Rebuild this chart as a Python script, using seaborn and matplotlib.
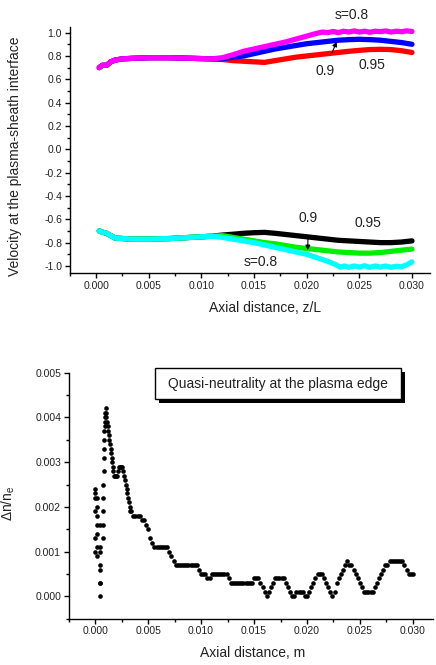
import matplotlib
matplotlib.use("Agg")
import matplotlib.pyplot as plt
from matplotlib.patches import Rectangle
from matplotlib.ticker import MultipleLocator, FormatStrFormatter
import numpy as np
import pandas as pd
import seaborn as sns

# ---- top panel: interface velocity, x in units of 1e-3 (z/L) ----
upper_common_x = [0.3, 0.6, 1.0, 1.4, 1.8, 2.5, 3.5, 5.0, 7.0, 9.0, 11.0]
upper_common_y = [0.70, 0.72, 0.72, 0.75, 0.765, 0.775, 0.78, 0.785, 0.785, 0.78, 0.775]
lower_common_x = [0.3, 0.6, 1.0, 1.4, 1.8, 2.5, 3.5, 5.0, 7.0, 9.0, 11.0]
lower_common_y = [-0.70, -0.71, -0.72, -0.74, -0.76, -0.765, -0.77, -0.77, -0.765, -0.755, -0.745]

red_x = [12, 13, 14, 15, 16, 17, 18, 19, 20, 21, 22, 23, 24, 25, 26, 27, 28, 29, 30]
red_y = [0.77, 0.76, 0.755, 0.75, 0.745, 0.76, 0.775, 0.79, 0.80, 0.81, 0.82, 0.83,
         0.84, 0.848, 0.855, 0.857, 0.855, 0.845, 0.83]
blue_x = [12, 13, 14, 15, 16, 17, 18, 19, 20, 21, 22, 23, 24, 25, 26, 27, 28, 29, 30]
blue_y = [0.775, 0.79, 0.80, 0.82, 0.84, 0.86, 0.875, 0.89, 0.905, 0.915, 0.925, 0.935,
          0.94, 0.943, 0.94, 0.935, 0.925, 0.915, 0.90]
magenta_x = [12, 13, 14, 15, 16, 17, 18, 19, 20, 21, 21.5, 22, 22.5, 23, 23.5, 24, 24.5,
             25, 25.5, 26, 26.5, 27, 27.5, 28, 28.5, 29, 29.5, 30]
magenta_y = [0.785, 0.81, 0.84, 0.86, 0.88, 0.90, 0.92, 0.945, 0.97, 0.995, 1.005, 1.0,
             1.01, 1.0, 1.012, 1.005, 1.015, 1.005, 1.012, 1.003, 1.012, 1.008, 1.015,
             1.005, 1.012, 1.008, 1.015, 1.01]
black_x = [12, 13, 14, 15, 16, 17, 18, 19, 20, 21, 22, 23, 24, 25, 26, 27, 28, 29, 30]
black_y = [-0.735, -0.728, -0.72, -0.715, -0.712, -0.72, -0.73, -0.74, -0.75, -0.76,
           -0.77, -0.78, -0.785, -0.79, -0.795, -0.80, -0.80, -0.795, -0.785]
green_x = [12, 13, 14, 15, 16, 17, 18, 19, 20, 21, 22, 23, 24, 25, 26, 27, 28, 29, 30]
green_y = [-0.74, -0.755, -0.77, -0.785, -0.80, -0.81, -0.825, -0.84, -0.85, -0.86,
           -0.87, -0.88, -0.885, -0.89, -0.89, -0.885, -0.875, -0.865, -0.855]
cyan_x = [12, 13, 14, 15, 16, 17, 18, 19, 20, 21, 22, 22.8, 23.2, 23.6, 24, 24.5, 25,
          25.5, 26, 26.5, 27, 27.5, 28, 28.5, 29, 29.5, 30]
cyan_y = [-0.755, -0.77, -0.785, -0.80, -0.82, -0.84, -0.86, -0.88, -0.90, -0.93, -0.96,
          -0.99, -1.01, -1.0, -1.012, -1.0, -1.01, -0.998, -1.012, -1.0, -1.01, -1.0,
          -1.012, -1.002, -1.008, -0.99, -0.965]

series_colors = {"0.95 up": "#ff0000", "0.9 up": "#0000ff", "0.8 up": "#ff00ff",
                 "0.95 down": "#000000", "0.9 down": "#00ee00", "0.8 down": "#00ffff"}

# ---- bottom panel: quasi-neutrality, x in 1e-3 m, y in 1e-4 ----
near_x = [0.0, 0.0, 0.0, 0.0, 0.0, 0.0,
          0.15, 0.15, 0.15, 0.15, 0.15, 0.15, 0.15,
          0.45, 0.45, 0.45, 0.45, 0.45, 0.45, 0.45, 0.45,
          0.72, 0.72, 0.72, 0.72, 0.72,
          0.80, 0.80, 0.80, 0.80, 0.80,
          0.95, 0.95, 0.95, 0.95,
          1.05, 1.05, 1.05,
          1.15, 1.20, 1.25, 1.30, 1.35, 1.40, 1.45, 1.50, 1.55, 1.60, 1.65, 1.70, 1.75,
          1.85, 1.95, 2.05, 2.15, 2.25, 2.35, 2.45, 2.55, 2.65,
          2.75, 2.82, 2.89, 2.96, 3.03, 3.10, 3.17, 3.24, 3.31, 3.40]
near_y = [24, 23, 22, 19, 13, 10,
          22, 20, 18, 16, 14, 11, 9,
          16, 11, 10, 7, 6, 3, 3, 0,
          25, 22, 19, 16, 13,
          28, 31, 33, 35, 37,
          38, 39, 40, 41,
          42, 41, 40,
          39, 38, 37, 36, 35, 34, 33, 32, 31, 30, 29, 28, 27,
          27, 27, 27, 28, 29, 29, 29, 29, 28,
          27, 26, 25, 24, 23, 22, 21, 20, 19, 19]
tail_start = 3.6
tail_step = 0.2
tail_y = [18, 18, 18, 18, 17, 17, 16, 15, 13, 12,
          11, 11, 11, 11, 11, 11, 11, 10, 9, 8,
          7, 7, 7, 7, 7, 7, 7, 7, 7, 7,
          7, 6, 5, 5, 5, 4, 4, 5, 5, 5,
          5, 5, 5, 5, 5, 4, 3, 3, 3, 3,
          3, 3, 3, 3, 3, 3, 3, 4, 4, 4,
          3, 2, 1, 0, 1, 2, 3, 4, 4, 4,
          4, 4, 3, 2, 1, 0, 0, 1, 1, 1,
          1, 0, 0, 1, 2, 3, 4, 5, 5, 5,
          4, 3, 2, 1, 0, 1, 3, 4, 5, 6,
          7, 8, 7, 7, 6, 5, 4, 3, 2, 1,
          1, 1, 1, 1, 2, 3, 4, 5, 6, 7,
          7, 8, 8, 8, 8, 8, 8, 8, 7, 6,
          5, 5, 5]

sns.set_theme(style="ticks")
plt.rcParams["font.family"] = ["Liberation Sans", "DejaVu Sans"]
plt.rcParams["axes.unicode_minus"] = False
plt.rcParams["mathtext.fontset"] = "custom"
plt.rcParams["mathtext.rm"] = "Liberation Sans"
plt.rcParams["mathtext.it"] = "Liberation Sans"

text_color = "#222222"


def style_axis(ax):
    sns.despine(ax=ax)
    for side in ("left", "bottom"):
        ax.spines[side].set_linewidth(1.0)
        ax.spines[side].set_color("black")
    ax.tick_params(which="major", direction="out", length=3.5, width=1.0,
                   labelsize=7.5, labelcolor=text_color, color="black", pad=2)
    ax.tick_params(which="minor", direction="out", length=2.5, width=1.0, color="black")
    ax.xaxis.set_major_locator(MultipleLocator(0.005))
    ax.xaxis.set_minor_locator(MultipleLocator(0.0025))
    ax.xaxis.set_major_formatter(FormatStrFormatter("%.3f"))
    ax.grid(False)
    ax.set_facecolor("white")


fig = plt.figure(figsize=(4.36, 6.65), dpi=100)
ax1 = fig.add_axes([0.160, 0.589, 0.826, 0.370])
ax2 = fig.add_axes([0.1576, 0.0696, 0.8356, 0.370])

# top panel
frames = []
for name, cx, cy, xs, ys in [
    ("0.95 up", upper_common_x, upper_common_y, red_x, red_y),
    ("0.9 up", upper_common_x, upper_common_y, blue_x, blue_y),
    ("0.8 up", upper_common_x, upper_common_y, magenta_x, magenta_y),
    ("0.95 down", lower_common_x, lower_common_y, black_x, black_y),
    ("0.9 down", lower_common_x, lower_common_y, green_x, green_y),
    ("0.8 down", lower_common_x, lower_common_y, cyan_x, cyan_y),
]:
    x = np.array(cx + xs, dtype=float) * 1e-3
    y = np.array(cy + ys, dtype=float)
    frames.append(pd.DataFrame({"z": x, "v": y, "s": name}))
velocity = pd.concat(frames, ignore_index=True)

sns.lineplot(data=velocity, x="z", y="v", hue="s", palette=series_colors,
             hue_order=list(series_colors), estimator=None, sort=False,
             linewidth=3.8, legend=False, ax=ax1)

style_axis(ax1)
ax1.set_xlim(-0.0025, 0.0317)
ax1.set_ylim(-1.063, 1.046)
ax1.yaxis.set_major_locator(MultipleLocator(0.2))
ax1.yaxis.set_minor_locator(MultipleLocator(0.1))
ax1.yaxis.set_major_formatter(FormatStrFormatter("%.1f"))
ax1.set_xlabel("Axial distance, z/L", fontsize=10, color=text_color, va="center")
ax1.xaxis.set_label_coords(0.542, -0.141)
ax1.set_ylabel("Velocity at the plasma-sheath interface", fontsize=10,
               color=text_color, va="center")
ax1.yaxis.set_label_coords(-0.152, 0.474)

ax1.text(0.0243, 1.152, "s=0.8", fontsize=10, ha="center", va="center", color=text_color)
ax1.annotate("0.9", xy=(0.02285, 0.923), xytext=(0.0217, 0.674), fontsize=10,
             ha="center", va="center", color=text_color,
             arrowprops=dict(arrowstyle="-|>", color="black", lw=0.8,
                             shrinkA=6, shrinkB=0, mutation_scale=7))
ax1.text(0.0262, 0.723, "0.95", fontsize=10, ha="center", va="center", color=text_color)
ax1.annotate("0.9", xy=(0.0201, -0.865), xytext=(0.02015, -0.591), fontsize=10,
             ha="center", va="center", color=text_color,
             arrowprops=dict(arrowstyle="-|>", color="black", lw=0.8,
                             shrinkA=6, shrinkB=0, mutation_scale=7))
ax1.text(0.0258, -0.634, "0.95", fontsize=10, ha="center", va="center", color=text_color)
ax1.text(0.0156, -0.963, "s=0.8", fontsize=10, ha="center", va="center", color=text_color)

# bottom panel
tail_x = tail_start + tail_step * np.arange(len(tail_y))
edge = pd.DataFrame({
    "z": np.concatenate([np.array(near_x), tail_x]) * 1e-3,
    "dn": np.concatenate([np.array(near_y, dtype=float), np.array(tail_y, dtype=float)]) * 1e-4,
})
sns.scatterplot(data=edge, x="z", y="dn", color="black", s=11, linewidth=0, ax=ax2)

style_axis(ax2)
ax2.set_xlim(-0.0025, 0.0319)
ax2.set_ylim(-0.0005, 0.005)
ax2.yaxis.set_major_locator(MultipleLocator(0.001))
ax2.yaxis.set_minor_locator(MultipleLocator(0.0005))
ax2.yaxis.set_major_formatter(FormatStrFormatter("%.3f"))
ax2.set_xlabel("Axial distance, m", fontsize=10, color=text_color, va="center")
ax2.xaxis.set_label_coords(0.506, -0.138)
ax2.set_ylabel(r"$\Delta$n/n$_{\rm e}$", fontsize=10, color=text_color, va="center")
ax2.yaxis.set_label_coords(-0.165, 0.47)

# boxed caption with drop shadow
bx, by, bw, bh = 155 / 436, 1 - 399 / 665, 245.7 / 436, 30.7 / 665
fig.add_artist(Rectangle((bx + 4 / 436, by - 4 / 665), bw, bh, transform=fig.transFigure,
                         facecolor="black", edgecolor="black", lw=0))
fig.add_artist(Rectangle((bx, by), bw, bh, transform=fig.transFigure,
                         facecolor="white", edgecolor="black", lw=1.0))
fig.text(bx + bw / 2, by + bh / 2, "Quasi-neutrality at the plasma edge", fontsize=10,
         ha="center", va="center", color=text_color)

fig.savefig("out.png", dpi=100, facecolor="white")
